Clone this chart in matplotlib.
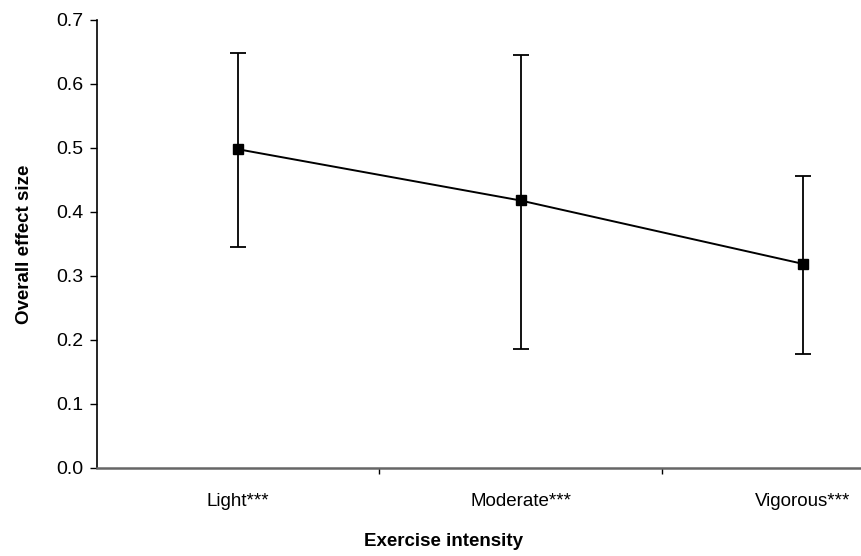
import matplotlib
matplotlib.use("Agg")
import matplotlib.pyplot as plt
from matplotlib.ticker import FixedLocator

# Effect size by exercise intensity, with confidence limits
categories = ['Light***', 'Moderate***', 'Vigorous***']
effect = [0.498, 0.418, 0.319]
upper = [0.648, 0.646, 0.457]
lower = [0.345, 0.186, 0.178]
yticks = [0.0, 0.1, 0.2, 0.3, 0.4, 0.5, 0.6, 0.7]

plt.rcParams['font.family'] = ['Liberation Sans', 'DejaVu Sans']

fig = plt.figure(figsize=(8.61, 5.56), dpi=100)
W, H = 861, 556
# plot area: x 97..944 (cut off at right edge), y 20..468 px
ax = fig.add_axes([97 / W, (H - 468) / H, (944 - 97) / W, (468 - 20) / H])

x = list(range(len(categories)))
yerr = [[e - l for e, l in zip(effect, lower)], [u - e for e, u in zip(effect, upper)]]
ax.errorbar(x, effect, yerr=yerr, color='black', lw=1.4, elinewidth=1.3,
            capsize=5.5, capthick=1.3, marker='s', markersize=7.5,
            markerfacecolor='black', markeredgecolor='black')

ax.set_xlim(-0.5, 2.5)
ax.set_ylim(0, 0.7)
ax.set_yticks(yticks)
ax.set_yticklabels([f'{v:.1f}' for v in yticks], fontsize=14)
ax.set_xticks(x)
ax.set_xticklabels(categories, fontsize=13.5)
ax.tick_params(axis='x', which='major', length=0, pad=18)
ax.xaxis.set_minor_locator(FixedLocator([0.5, 1.5]))
ax.tick_params(axis='x', which='minor', length=4, width=1, direction='out')
ax.tick_params(axis='y', length=5, width=1, direction='out', pad=5)

for s in ['top', 'right']:
    ax.spines[s].set_visible(False)
ax.spines['left'].set_linewidth(1.2)
ax.spines['bottom'].set_color('#666666')
ax.spines['bottom'].set_linewidth(1.8)

ax.set_ylabel('Overall effect size', fontsize=13.5, fontweight='bold')
ax.set_xlabel('Exercise intensity', fontsize=13.5, fontweight='bold')
ax.yaxis.set_label_coords(-64 / (944 - 97), 0.5)
ax.xaxis.set_label_coords((443 - 97) / (944 - 97), -(533 - 468) / (468 - 20))

fig.savefig('out.png', dpi=100)
